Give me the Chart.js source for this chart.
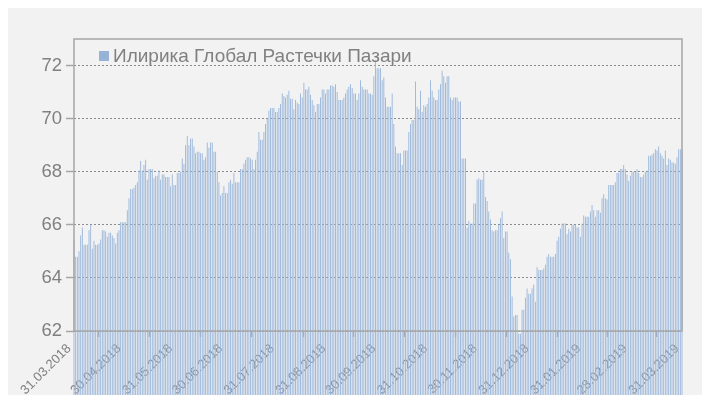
<!DOCTYPE html>
<html>
<head>
  <title>Илирика Глобал Растечки Пазари</title>
  <script src="https://cdn.jsdelivr.net/npm/chart.js"></script>
  <meta name="viewport" content="width=device-width, initial-scale=1">
  <style>
    body { margin: 0; background: #fff; font-family: "Liberation Sans", Arial, sans-serif; }
    #wrap { position: absolute; left: 8px; top: 8px; width: 694px; height: 387px; background: #f2f2f2; }
    #legend { position: absolute; left: 91px; top: 37px; color: #808080; font-size: 19px; white-space: nowrap; }
    #legend span { display: inline-block; width: 10px; height: 10px; background: #95b3d7; margin-right: 4px; vertical-align: 1px; }
  </style>
</head>
<body>
  <div id="wrap">
    <canvas id="chart" width="694" height="387"></canvas>
    <div id="legend"><span></span>Илирика Глобал Растечки Пазари</div>
  </div>

  <script>
    const seriesName = 'Илирика Глобал Растечки Пазари';
    const tickLabels = ['31.03.2018', '30.04.2018', '31.05.2018', '30.06.2018', '31.07.2018', '31.08.2018',
      '30.09.2018', '31.10.2018', '30.11.2018', '31.12.2018', '31.01.2019', '28.02.2019', '31.03.2019'];
    const yTicks = [62, 64, 66, 68, 70, 72];

    // daily values, 31.03.2018 .. 31.03.2019
    const values = [
      65.4,
      // april
      64.8, 64.8, 65.0, 65.6, 65.9, 65.25, 65.25, 65.25, 65.8, 66.0, 65.1, 65.4, 65.25, 65.25, 65.3,
      65.45, 65.8, 65.8, 65.75, 65.55, 65.7, 65.7, 65.6, 65.5, 65.3, 65.7, 65.8, 66.1, 66.1, 66.1,
      // may
      66.1, 66.55, 67.0, 67.35, 67.35, 67.4, 67.5, 67.6, 68.05, 68.4, 68.05, 68.25, 68.45, 67.7, 68.1,
      68.1, 68.1, 67.75, 67.85, 67.85, 68.05, 67.7, 67.9, 67.9, 67.8, 67.8, 67.8, 67.45, 67.9, 67.5, 67.5,
      // june
      67.95, 67.95, 68.0, 68.5, 68.3, 69.0, 69.35, 69.0, 69.25, 69.25, 68.95, 68.7, 68.75, 68.75, 68.7,
      68.7, 68.45, 68.55, 69.1, 68.9, 69.1, 69.1, 68.75, 68.75, 68.0, 67.6, 67.1, 67.2, 67.45, 67.2,
      // july
      67.2, 67.6, 67.7, 67.55, 67.95, 67.6, 67.6, 67.6, 68.1, 68.1, 68.3, 68.45, 68.55, 68.55, 68.5,
      68.45, 68.1, 68.45, 68.75, 69.5, 69.2, 69.2, 69.5, 69.8, 70.0, 70.3, 70.4, 70.4, 70.4, 70.25, 70.25,
      // august
      70.4, 70.55, 70.95, 70.85, 70.8, 70.9, 71.05, 70.75, 70.75, 70.35, 70.7, 70.6, 70.55, 70.95, 70.8,
      71.35, 71.1, 71.1, 71.2, 70.9, 70.7, 70.5, 70.25, 70.55, 70.55, 70.8, 71.1, 71.1, 70.95, 71.1, 71.1,
      // september
      71.25, 71.25, 71.2, 71.3, 71.0, 70.7, 70.7, 70.7, 70.8, 70.95, 71.1, 71.2, 71.3, 71.15, 70.95,
      70.95, 70.7, 70.95, 71.45, 71.2, 71.1, 71.1, 71.1, 70.95, 70.95, 70.9, 71.6, 72.2, 71.9, 71.9,
      // october
      71.9, 71.45, 71.55, 70.8, 70.45, 70.45, 70.45, 70.95, 69.8, 68.95, 68.7, 68.7, 68.7, 68.25, 68.8,
      68.8, 68.8, 69.5, 69.8, 69.95, 69.95, 71.4, 70.45, 70.35, 71.05, 70.25, 70.5, 70.45, 70.55, 70.8, 71.45,
      // november
      71.05, 70.8, 70.7, 70.7, 71.1, 71.3, 71.8, 71.6, 71.35, 71.6, 71.6, 70.8, 70.7, 70.8, 70.8,
      70.8, 70.65, 70.65, 68.5, 68.5, 68.5, 65.9, 66.15, 66.05, 66.05, 66.8, 66.8, 67.7, 67.75, 67.7,
      // december
      67.7, 68.0, 67.05, 66.9, 66.5, 66.2, 65.8, 65.75, 65.8, 65.8, 66.0, 66.25, 66.5, 65.5, 65.75,
      65.75, 64.95, 64.7, 63.3, 62.55, 62.6, 62.6, 61.9, 61.9, 62.8, 62.8, 63.25, 63.6, 63.4, 63.4, 63.6,
      // january
      63.75, 63.1, 64.4, 64.3, 64.3, 64.3, 64.35, 64.5, 64.8, 64.9, 64.8, 64.8, 64.8, 64.9, 65.4,
      65.55, 65.85, 66.05, 66.05, 66.05, 65.65, 65.85, 65.75, 66.0, 66.0, 66.0, 65.9, 65.9, 65.55, 66.05, 66.35,
      // february
      66.3, 66.3, 66.3, 66.5, 66.75, 66.55, 66.3, 66.55, 66.55, 66.45, 67.0, 67.15, 67.0, 66.95,
      67.5, 67.5, 67.5, 67.5, 67.6, 67.95, 67.95, 68.1, 68.1, 68.25, 68.1, 67.9, 67.65, 67.85,
      // march
      68.0, 68.0, 68.0, 68.1, 67.95, 67.8, 67.8, 67.9, 68.0, 68.05, 68.6, 68.6, 68.65, 68.7, 68.85,
      68.8, 68.95, 68.7, 68.6, 68.5, 68.8, 68.25, 68.5, 68.45, 68.35, 68.35, 68.3, 68.55, 68.85, 68.85, 68.85
    ];

    const pad = n => String(n).padStart(2, '0');
    const categories = values.map((v, i) => {
      const d = new Date(Date.UTC(2018, 2, 31 + i));
      return pad(d.getUTCDate()) + '.' + pad(d.getUTCMonth() + 1) + '.' + d.getUTCFullYear();
    });

    const frame = {
      id: 'frame',
      afterDraw(chart) {
        const { ctx, chartArea: a } = chart;
        ctx.save();
        ctx.strokeStyle = '#a6a6a6';
        ctx.lineWidth = 1.5;
        ctx.strokeRect(a.left, a.top, a.right - a.left, a.bottom - a.top);
        ctx.restore();
      }
    };

    const gray = '#808080';
    new Chart(document.getElementById('chart'), {
      type: 'bar',
      data: {
        labels: categories,
        datasets: [{
          label: seriesName,
          data: values,
          backgroundColor: '#9ab6da',
          barPercentage: 1,
          categoryPercentage: 0.55,
          clip: false
        }]
      },
      options: {
        responsive: false,
        animation: false,
        layout: { padding: { top: 31, right: 20, left: 0, bottom: 0 } },
        plugins: { legend: { display: false }, tooltip: { enabled: false } },
        scales: {
          x: {
            offset: false,
            border: { display: false },
            grid: { drawOnChartArea: false, tickLength: 6, tickColor: '#a6a6a6', tickWidth: 1.5 },
            ticks: {
              autoSkip: false, minRotation: 45, maxRotation: 45, padding: 4, labelOffset: -5,
              color: gray, font: { family: '"Liberation Sans", Arial', size: 13 }
            },
            afterBuildTicks: s => { s.ticks = s.ticks.filter(t => tickLabels.includes(categories[t.value])); },
            afterFit: s => { s.height = 64; }
          },
          y: {
            min: 62, max: 73,
            border: { display: false, dash: [2, 2] },
            grid: { color: '#8c8c8c', borderDash: [2, 2], tickLength: 8, tickColor: '#a6a6a6', tickWidth: 1.5, tickBorderDash: [] },
            ticks: {
              stepSize: 2, padding: 4,
              color: gray, font: { family: '"Liberation Sans", Arial', size: 18.5 }
            },
            afterBuildTicks: s => { s.ticks = yTicks.map(v => ({ value: v })); },
            afterFit: s => { s.width = 66; }
          }
        }
      },
      plugins: [frame]
    });
  </script>
</body>
</html>
